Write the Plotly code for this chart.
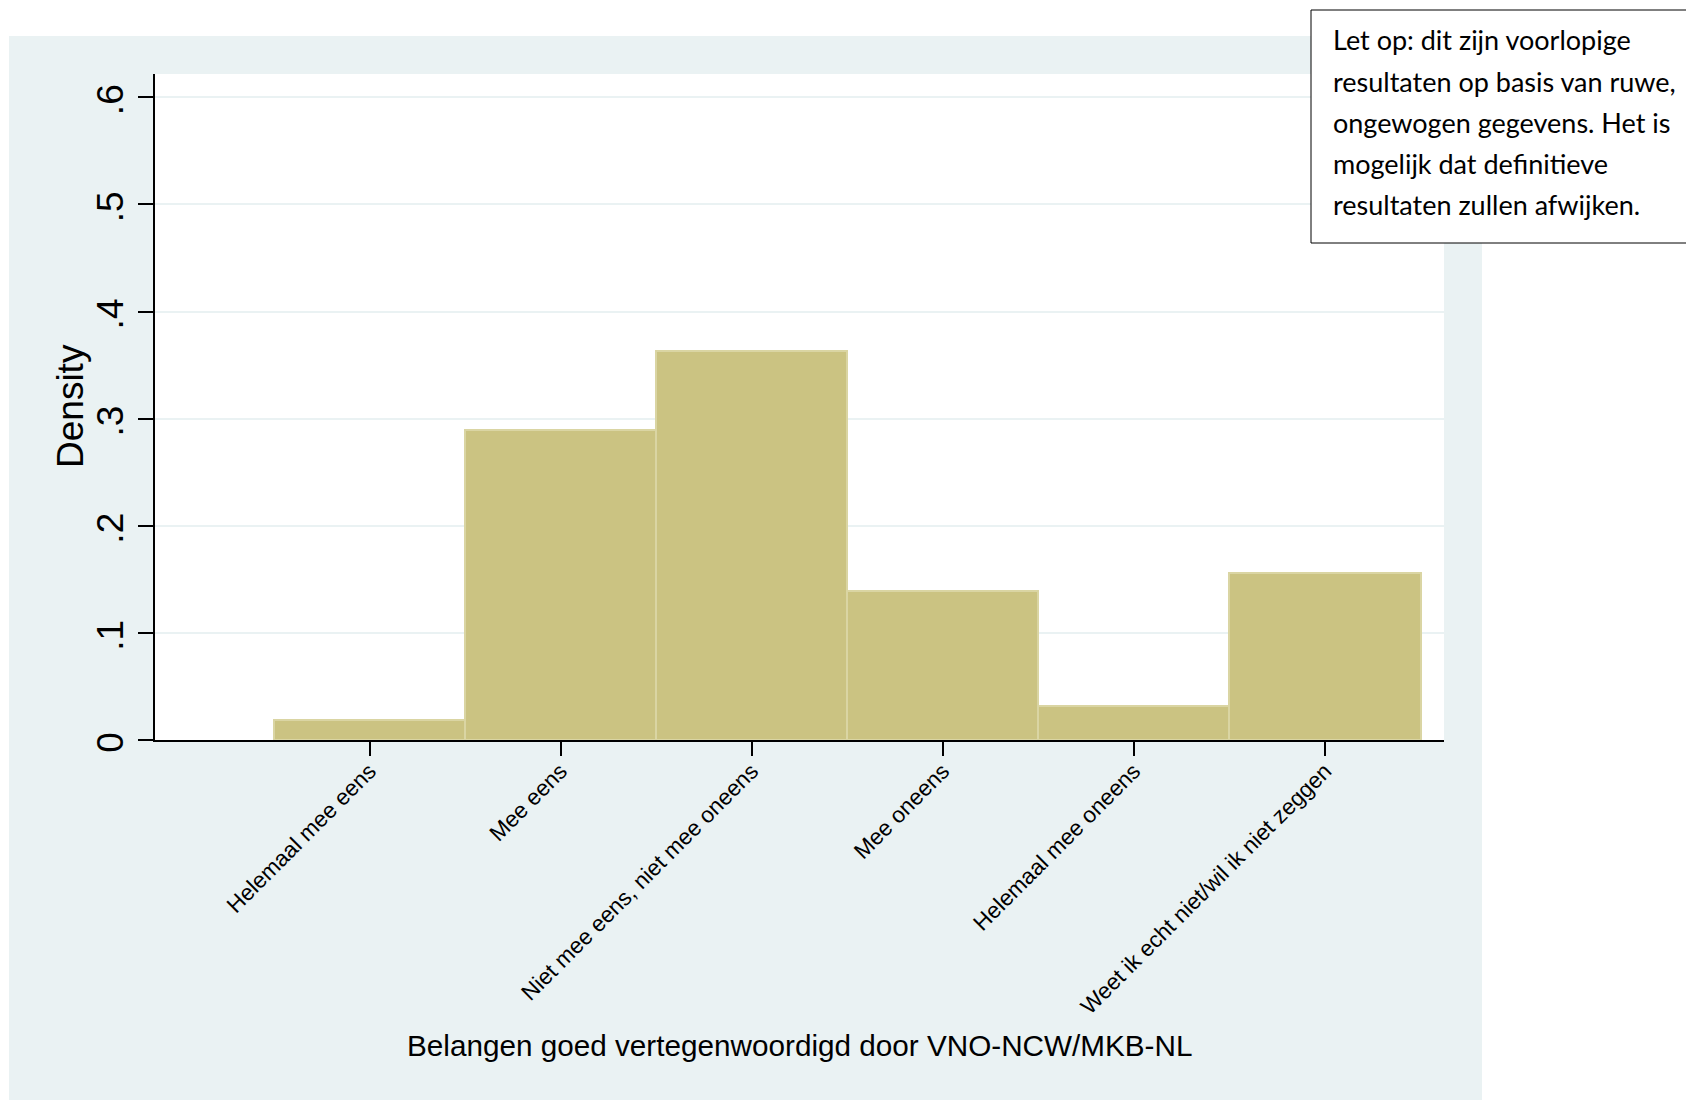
import plotly.graph_objects as go

# ---- data ----
categories = [
    "Helemaal mee eens",
    "Mee eens",
    "Niet mee eens, niet mee oneens",
    "Mee oneens",
    "Helemaal mee oneens",
    "Weet ik echt niet/wil ik niet zeggen",
]
positions = [1, 2, 3, 4, 5, 6]
density = [0.0185, 0.2896, 0.3633, 0.1395, 0.0313, 0.1562]
y_ticks = [0, 0.1, 0.2, 0.3, 0.4, 0.5, 0.6]
y_tick_labels = ["0", ".1", ".2", ".3", ".4", ".5", ".6"]
x_title = "Belangen goed vertegenwoordigd door VNO-NCW/MKB-NL"
y_title = "Density"
note_lines = [
    "Let op: dit zijn voorlopige",
    "resultaten op basis van ruwe,",
    "ongewogen gegevens. Het is",
    "mogelijk dat definitieve",
    "resultaten zullen afwijken.",
]

# ---- layout geometry (page pixels) ----
OFF = 8  # default body margin of the page
W, H = 1694, 1100
FW, FH = W - OFF, H - OFF
L, R, T, B = 155 - OFF, 1444 - OFF, 74 - OFF, 740 - OFF
BG = "rgb(234,242,243)"
FONT = "Liberation Sans, Arial, sans-serif"


def px_x(px):
    return (px - OFF - L) / (R - L)


def px_y(py):
    return (B - (py - OFF)) / (B - T)


fig = go.Figure()
fig.add_trace(
    go.Bar(
        x=positions,
        y=density,
        width=1,
        marker=dict(color="#CBC382", line=dict(color="#DAD5A3", width=2)),
        hoverinfo="skip",
    )
)

shapes = [
    # white margins around the light graph region
    dict(type="rect", xref="paper", yref="paper", x0=px_x(0), x1=px_x(W + 20), y0=px_y(0), y1=px_y(36),
         fillcolor="white", line=dict(width=0), layer="below"),
    dict(type="rect", xref="paper", yref="paper", x0=px_x(0), x1=px_x(9), y0=px_y(36), y1=px_y(H + 20),
         fillcolor="white", line=dict(width=0), layer="below"),
    dict(type="rect", xref="paper", yref="paper", x0=px_x(1482), x1=px_x(W + 20), y0=px_y(36), y1=px_y(H + 20),
         fillcolor="white", line=dict(width=0), layer="below"),
    # note box (right edge runs off the page)
    dict(type="rect", xref="paper", yref="paper", x0=px_x(1311), x1=px_x(1710), y0=px_y(10), y1=px_y(243),
         fillcolor="white", line=dict(color="black", width=1), layer="above"),
]

annotations = [
    dict(text=x_title, xref="paper", yref="paper", x=0.5, y=px_y(1045), xanchor="center", yanchor="middle",
         showarrow=False, font=dict(family=FONT, size=29.7, color="black")),
    dict(text=y_title, xref="paper", yref="paper", x=px_x(70), y=px_y(406), xanchor="center", yanchor="middle",
         textangle=-90, showarrow=False, font=dict(family=FONT, size=37, color="black")),
]
line_centers = [40, 81, 122, 163, 204]
for txt, cy in zip(note_lines, line_centers):
    annotations.append(
        dict(text=txt, xref="paper", yref="paper", x=px_x(1331), y=px_y(cy), xanchor="left", yanchor="middle",
             showarrow=False, font=dict(family="Lato, Carlito, sans-serif", size=27, color="black"))
    )

fig.update_layout(
    width=FW,
    height=FH,
    margin=dict(l=L, r=FW - R, t=T, b=FH - B, pad=0),
    paper_bgcolor=BG,
    plot_bgcolor="white",
    showlegend=False,
    bargap=0,
    shapes=shapes,
    annotations=annotations,
    font=dict(family=FONT, color="black"),
    xaxis=dict(
        range=[-0.1225, 6.623],
        tickvals=positions,
        ticktext=categories,
        tickangle=-45,
        tickfont=dict(family=FONT, size=22.5, color="black"),
        ticks="outside",
        ticklen=14,
        tickwidth=2,
        tickcolor="black",
        ticklabelstandoff=-7,
        showline=True,
        linecolor="black",
        linewidth=2,
        showgrid=False,
        zeroline=False,
        fixedrange=True,
    ),
    yaxis=dict(
        range=[0, 0.6217],
        tickvals=y_ticks,
        ticktext=y_tick_labels,
        tickangle=-90,
        tickfont=dict(family=FONT, size=37, color="black"),
        ticks="outside",
        ticklen=15,
        tickwidth=2,
        tickcolor="black",
        ticklabelshift=8,
        showline=True,
        linecolor="black",
        linewidth=2,
        showgrid=True,
        gridcolor=BG,
        gridwidth=2,
        zeroline=False,
        fixedrange=True,
    ),
)

fig.write_html("out.html")
